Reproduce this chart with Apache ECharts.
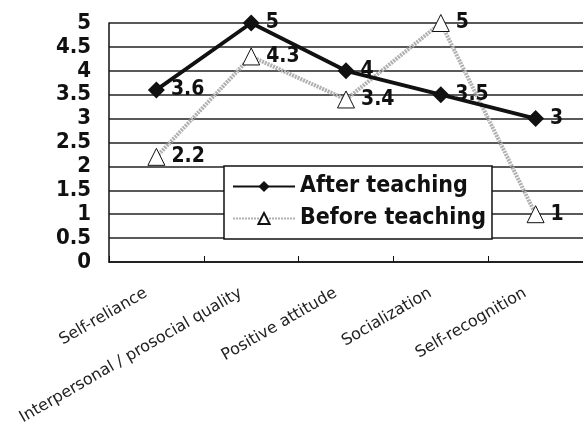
<!DOCTYPE html>
<html>
<head>
<meta charset="utf-8">
<script src="https://cdn.jsdelivr.net/npm/echarts@6/dist/echarts.min.js"></script>
<style>
  html, body { margin: 0; padding: 0; background: #fff; }
  #chart { width: 583px; height: 423px; }
</style>
</head>
<body>
<div id="chart"></div>
<script>
// Dimensions scored before and after the teaching programme
const categories = [
  'Self-reliance',
  'Interpersonal / prosocial quality',
  'Positive attitude',
  'Socialization',
  'Self-recognition'
];
const afterTeaching = [3.6, 5, 4, 3.5, 3];
const beforeTeaching = [2.2, 4.3, 3.4, 5, 1];
const seriesNames = ['After teaching', 'Before teaching'];

const boldFont = 'DejaVu Sans Condensed';
const chart = echarts.init(document.getElementById('chart'), null, { renderer: 'canvas' });

const valueLabel = {
  show: true,
  position: 'right',
  distance: 6,
  color: '#111',
  fontFamily: boldFont,
  fontWeight: 'bold',
  fontSize: 21
};

chart.setOption({
  backgroundColor: '#fff',
  animation: false,
  grid: {
    left: 109, top: 23, right: 0, bottom: 161,
    containLabel: false,
    outerBoundsMode: 'none'
  },
  legend: {
    left: 224,
    top: 166,
    orient: 'vertical',
    backgroundColor: '#fff',
    borderColor: '#111',
    borderWidth: 1.5,
    borderRadius: 0,
    padding: [9, 6, 9, 8],
    itemGap: 9,
    itemWidth: 62,
    itemHeight: 14,
    textStyle: { color: '#111', fontFamily: boldFont, fontWeight: 'bold', fontSize: 23 },
    data: seriesNames
  },
  xAxis: {
    type: 'category',
    data: categories,
    boundaryGap: true,
    axisLine: { lineStyle: { color: '#111', width: 1.5 } },
    axisTick: { show: true, inside: true, length: 6, lineStyle: { color: '#111', width: 1 } },
    axisLabel: {
      interval: 0,
      rotate: 30,
      margin: 24,
      padding: [0, 12, 0, 0],
      color: '#222',
      fontFamily: 'DejaVu Sans',
      fontSize: 16
    }
  },
  yAxis: {
    type: 'value',
    min: 0,
    max: 5,
    interval: 0.5,
    axisLine: { show: true, lineStyle: { color: '#111', width: 1.5 } },
    axisTick: { show: false },
    splitLine: { lineStyle: { color: '#222', width: 1.5 } },
    axisLabel: {
      margin: 18,
      color: '#111',
      fontFamily: boldFont,
      fontWeight: 'bold',
      fontSize: 22
    }
  },
  series: [
    {
      name: seriesNames[0],
      type: 'line',
      data: afterTeaching,
      z: 4,
      symbol: 'diamond',
      symbolSize: 17,
      lineStyle: { color: '#111', width: 3.8 },
      itemStyle: { color: '#111' },
      label: valueLabel
    },
    {
      name: seriesNames[1],
      type: 'line',
      data: beforeTeaching,
      z: 3,
      symbol: 'triangle',
      symbolSize: 17,
      lineStyle: { color: '#b0b0b0', width: 4, type: [2, 1] },
      itemStyle: { color: '#fff', borderColor: '#111', borderWidth: 1 },
      label: valueLabel
    }
  ]
});
</script>
</body>
</html>
